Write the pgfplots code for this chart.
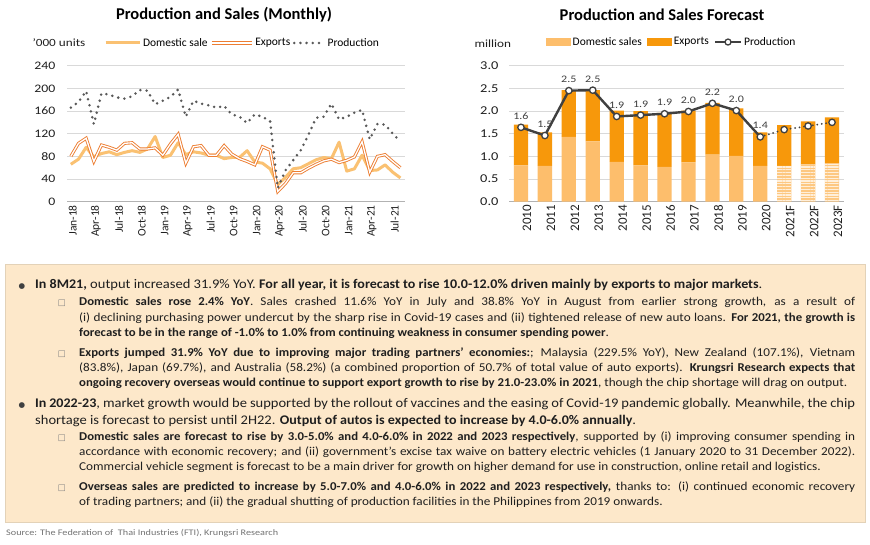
\documentclass[border=0pt]{standalone}
\usepackage{fontspec}
\setmainfont{Carlito}
\newfontfamily\wide[FakeStretch=1.2]{Carlito}
\newfontfamily\body[FakeStretch=1.1, BoldFeatures={FakeStretch=1.065}]{Carlito}
\newfontfamily\sym{DejaVu Sans}
\usepackage{pgfplots}
\pgfplotsset{compat=1.18}
\usetikzlibrary{patterns.meta}

\definecolor{domL}{HTML}{FAC172}
\definecolor{expL}{HTML}{ED7D31}
\definecolor{prodL}{HTML}{595959}
\definecolor{domB}{HTML}{FDBE6C}
\definecolor{expB}{HTML}{F7980B}
\definecolor{prodB}{HTML}{404040}
\definecolor{boxfill}{HTML}{FDE8CA}
\definecolor{boxdraw}{HTML}{E3D2B8}
\definecolor{gridc}{HTML}{D9D9D9}
\definecolor{txt}{HTML}{1F1F1F}

% one justified line of the text box
\newcommand\jl[2]{\makebox[#1][s]{#2}}
\newcommand\bul{{\sym\fontsize{7.5}{7.5}\selectfont\color{prodB}●}}
\newcommand\sq{{\sym\fontsize{8.5}{8.5}\selectfont\color{gray}□}}
\newcommand\mainf{\body\fontsize{13.2}{15}\selectfont}
\newcommand\subf{\body\fontsize{12}{14}\selectfont}

\pgfplotsset{
  panel/.style={
    scale only axis, height=136pt, anchor=south west, clip=false,
    ymajorgrids, grid style={gridc, line width=0.8pt},
    axis lines*=left, x axis line style={gray!60, line width=0.8pt},
    y axis line style={draw=none}, tick style={draw=none}, major tick length=0pt,
    /pgf/number format/assume math mode=true,
    every tick label/.append style={text=txt},
  },
}

\begin{document}
\begin{tikzpicture}[x=1pt,y=1pt]
\path[use as bounding box, fill=white] (0,0) rectangle (870,545);

% ---------- left: monthly ----------
\node[font=\bfseries\fontsize{16.5}{18}\selectfont] at (224,530) {Production and Sales (Monthly)};
\node[anchor=west, font=\wide\fontsize{11}{13}\selectfont, text=txt] at (29,502) {’000 units};

\begin{axis}[panel,
  at={(67pt,343.3pt)}, width=338pt,
  xmin=-0.5, xmax=43.6, ymin=0, ymax=240,
  ytick={0,40,...,240},
  xtick={0,3,...,42},
  xticklabels={Jan-18,Apr-18,Jul-18,Oct-18,Jan-19,Apr-19,Jul-19,Oct-19,Jan-20,Apr-20,Jul-20,Oct-20,Jan-21,Apr-21,Jul-21},
  x tick label style={rotate=90, anchor=east, font=\fontsize{11.5}{13}\selectfont, yshift=-2pt},
  y tick label style={font=\wide\fontsize{11.5}{13}\selectfont, xshift=-8pt},
  legend columns=3,
  legend style={at={(axis description cs:0.1,1.167)}, anchor=west, draw=none, fill=none,
    font=\fontsize{11.5}{13}\selectfont,
    /tikz/every even column/.append style={column sep=0.5pt}},
]
\addplot[domL, line width=3pt, line join=round,
  legend image code/.code={\draw[domL, line width=3pt] (0pt,0pt) -- (34pt,0pt);}]
  coordinates {
  (0,66) (1,75) (2,96) (3,79) (4,85) (5,88) (6,83) (7,87) (8,90) (9,87) (10,93) (11,115)
  (12,78) (13,82) (14,104) (15,83) (16,88) (17,86) (18,82) (19,82) (20,76) (21,78) (22,78) (23,90)
  (24,70) (25,68) (26,58) (27,30) (28,43) (29,58) (30,60) (31,67) (32,74) (33,78) (34,76) (35,105)
  (36,54) (37,58) (38,82) (39,55) (40,56) (41,65) (42,52) (43,42)};
\addlegendentry{Domestic sale}
\addplot[expL, double=white, double distance=1.3pt, line width=0.9pt,
  legend image code/.code={\draw[expL, double=white, double distance=1.3pt, line width=0.9pt] (0pt,0pt) -- (40pt,0pt);}]
  coordinates {
  (0,80) (1,103) (2,112) (3,71) (4,100) (5,96) (6,91) (7,103) (8,104) (9,93) (10,93) (11,95)
  (12,82) (13,102) (14,119) (15,68) (16,97) (17,99) (18,82) (19,82) (20,99) (21,84) (22,76) (23,71)
  (24,65) (25,97) (26,91) (27,18) (28,32) (29,51) (30,51) (31,59) (32,66) (33,72) (34,75) (35,69)
  (36,73) (37,79) (38,106) (39,52) (40,80) (41,83) (42,71) (43,60)};
\addlegendentry{Exports}
\addplot[prodL, line width=2.8pt, line cap=round, dash pattern=on 0pt off 6.2pt,
  legend image code/.code={\draw[prodL, line width=2.8pt, line cap=round, dash pattern=on 0pt off 6.2pt] (2pt,0pt) -- (32pt,0pt);}]
  coordinates {
  (0,166) (1,176) (2,195) (3,137) (4,191) (5,189) (6,184) (7,182) (8,186) (9,197) (10,196) (11,172)
  (12,178) (13,185) (14,198) (15,150) (16,178) (17,173) (18,170) (19,166) (20,169) (21,154) (22,150) (23,139)
  (24,154) (25,150) (26,142) (27,24) (28,55) (29,73) (30,91) (31,118) (32,148) (33,150) (34,173) (35,145)
  (36,150) (37,157) (38,162) (39,110) (40,137) (41,136) (42,120) (43,106)};
\addlegendentry{Production}
\end{axis}

% ---------- right: annual forecast ----------
\node[font=\bfseries\fontsize{16.5}{18}\selectfont] at (662,530) {Production and Sales Forecast};
\node[anchor=west, font=\wide\fontsize{11}{13}\selectfont, text=txt] at (471,501) {million};

\begin{axis}[panel,
  at={(509pt,343.3pt)}, width=335pt,
  xmin=-0.5, xmax=13.5, ymin=0, ymax=3,
  ybar stacked, bar width=14.3pt,
  ytick={0,0.5,...,3},
  yticklabel={\pgfmathprintnumber[fixed,fixed zerofill,precision=1]{\tick}},
  xtick={0,...,13},
  xticklabels={2010,2011,2012,2013,2014,2015,2016,2017,2018,2019,2020,2021F,2022F,2023F},
  x tick label style={rotate=90, anchor=east, font=\fontsize{13}{15}\selectfont, yshift=-6pt},
  y tick label style={font=\wide\fontsize{12}{14}\selectfont, xshift=-7pt},
  legend columns=3,
  legend style={at={(axis description cs:0.1,1.174)}, anchor=west, draw=none, fill=none,
    font=\fontsize{11.5}{13}\selectfont,
    /tikz/every even column/.append style={column sep=3pt}},
]
\addplot[fill=domB, draw=none,
  legend image code/.code={\fill[domB] (0pt,-4pt) rectangle (25pt,4pt);}]
  coordinates {(0,0.80) (1,0.79) (2,1.43) (3,1.33) (4,0.88) (5,0.80) (6,0.77) (7,0.87)
  (8,1.04) (9,1.01) (10,0.79) (11,0) (12,0) (13,0)};
\addlegendentry{Domestic sales}
\addplot[fill=domB!85, draw=none, forget plot,
  postaction={pattern={Lines[angle=0,distance=2.8pt,line width=1.1pt]}, pattern color=white!75!domB}]
  coordinates {(0,0) (1,0) (2,0) (3,0) (4,0) (5,0) (6,0) (7,0) (8,0) (9,0) (10,0)
  (11,0.79) (12,0.82) (13,0.85)};
\addplot[fill=expB, draw=none,
  legend image code/.code={\fill[expB] (0pt,-4pt) rectangle (25pt,4pt);}]
  coordinates {(0,0.90) (1,0.74) (2,1.03) (3,1.13) (4,1.13) (5,1.20) (6,1.19) (7,1.14)
  (8,1.14) (9,1.05) (10,0.74) (11,0.90) (12,0.95) (13,1.01)};
\addlegendentry{Exports}
\addlegendimage{legend image code/.code={
  \draw[prodB, line width=2.2pt] (0pt,0pt) -- (26pt,0pt);
  \draw[prodB, fill=white, line width=1.3pt] (13pt,0pt) circle (3pt);}}
\addlegendentry{Production}
\end{axis}

\begin{axis}[panel, hide axis,
  at={(509pt,343.3pt)}, width=335pt,
  xmin=-0.5, xmax=13.5, ymin=0, ymax=3,
]
\addplot[prodB, line width=2pt, line cap=round, dash pattern=on 0pt off 4.5pt]
  coordinates {(10,1.43) (11,1.59) (12,1.67) (13,1.75)};
\addplot[prodB, line width=2.4pt, mark=*, mark size=3.2pt,
  mark options={fill=white, draw=prodB, line width=1.3pt, solid},
  point meta=explicit symbolic, nodes near coords,
  every node near coord/.append style={font=\wide\fontsize{10}{11}\selectfont, text=prodB, yshift=4pt}]
  coordinates {(0,1.64)[1.6] (1,1.46)[1.5] (2,2.45)[2.5] (3,2.46)[2.5] (4,1.88)[1.9] (5,1.91)[1.9]
  (6,1.94)[1.9] (7,1.99)[2.0] (8,2.17)[2.2] (9,2.01)[2.0] (10,1.43)[1.4]};
\addplot[only marks, mark=*, mark size=3.2pt,
  mark options={fill=white, draw=prodB, line width=1.3pt}]
  coordinates {(11,1.59) (12,1.67) (13,1.75)};
\end{axis}

% ---------- commentary box ----------
\draw[boxdraw, fill=boxfill, line width=0.8pt] (5,23) rectangle (865,281);
\begin{scope}[every node/.style={anchor=base west, inner sep=0pt, text=txt, font=\subf}]
\node[anchor=base] at (22,256) {\bul};
\node[font=\mainf] at (35,256) {\textbf{In 8M21,} output increased 31.9\% YoY. \textbf{For all year, it is forecast to rise 10.0-12.0\% driven mainly by exports to major markets}.};
\node[anchor=base] at (62,239) {\sq};
\node at (79,239) {\jl{776pt}{\textbf{Domestic sales rose 2.4\% YoY}. Sales crashed 11.6\% YoY in July and 38.8\% YoY in August from earlier strong growth, as a result of}};
\node at (79,223) {\jl{776pt}{(i) declining purchasing power undercut by the sharp rise in Covid-19 cases and (ii) tightened release of new auto loans. \textbf{For 2021, the growth is}}};
\node at (79,208) {\textbf{forecast to be in the range of -1.0\% to 1.0\% from continuing weakness in consumer spending power}.};
\node[anchor=base] at (62,188) {\sq};
\node at (79,188) {\jl{776pt}{\textbf{Exports jumped 31.9\% YoY due to improving major trading partners’ economies:}; Malaysia (229.5\% YoY), New Zealand (107.1\%), Vietnam}};
\node at (79,173) {\jl{776pt}{(83.8\%), Japan (69.7\%), and Australia (58.2\%) (a combined proportion of 50.7\% of total value of auto exports). \textbf{Krungsri Research expects that}}};
\node at (79,158) {\textbf{ongoing recovery overseas would continue to support export growth to rise by 21.0-23.0\% in 2021}, though the chip shortage will drag on output.};
\node[anchor=base] at (22,137.5) {\bul};
\node[font=\mainf] at (35,137.5) {\jl{820pt}{\textbf{In 2022-23}, market growth would be supported by the rollout of vaccines and the easing of Covid-19 pandemic globally. Meanwhile, the chip}};
\node[font=\mainf] at (35,120.5) {shortage is forecast to persist until 2H22. \textbf{Output of autos is expected to increase by 4.0-6.0\% annually}.};
\node[anchor=base] at (62,104) {\sq};
\node at (79,104) {\jl{776pt}{\textbf{Domestic sales are forecast to rise by 3.0-5.0\% and 4.0-6.0\% in 2022 and 2023 respectively}, supported by (i) improving consumer spending in}};
\node at (79,89) {\jl{776pt}{accordance with economic recovery; and (ii) government’s excise tax waive on battery electric vehicles (1 January 2020 to 31 December 2022).}};
\node at (79,74) {Commercial vehicle segment is forecast to be a main driver for growth on higher demand for use in construction, online retail and logistics.};
\node[anchor=base] at (62,54) {\sq};
\node at (79,54) {\jl{776pt}{\textbf{Overseas sales are predicted to increase by 5.0-7.0\% and 4.0-6.0\% in 2022 and 2023 respectively,} thanks to: (i) continued economic recovery}};
\node at (79,39) {of trading partners; and (ii) the gradual shutting of production facilities in the Philippines from 2019 onwards.};
\node[font=\wide\fontsize{8.5}{10}\selectfont, text=gray!90!black] at (6,9) {Source: The Federation of\ \ Thai Industries (FTI), Krungsri Research};
\end{scope}
\end{tikzpicture}
\end{document}
